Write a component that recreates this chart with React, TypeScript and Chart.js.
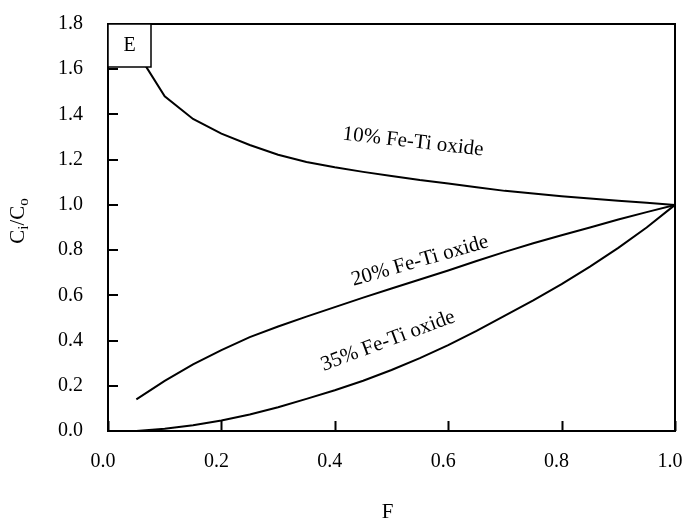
import React, { useEffect, useRef } from "react";
import { Chart, registerables } from "chart.js";

Chart.register(...registerables);

const fractionF = [0.05, 0.1, 0.15, 0.2, 0.25, 0.3, 0.35, 0.4, 0.45, 0.5, 0.55, 0.6, 0.65, 0.7, 0.75, 0.8, 0.85, 0.9, 0.95, 1.0];
const oxide10 = [1.68, 1.48, 1.38, 1.315, 1.265, 1.222, 1.19, 1.166, 1.146, 1.128, 1.11, 1.095, 1.078, 1.062, 1.05, 1.038, 1.028, 1.018, 1.009, 1.0];
const oxide20 = [0.14, 0.222, 0.295, 0.358, 0.415, 0.462, 0.506, 0.548, 0.59, 0.63, 0.67, 0.71, 0.752, 0.792, 0.83, 0.866, 0.9, 0.935, 0.968, 1.0];
const oxide35 = [0.0, 0.01, 0.025, 0.046, 0.073, 0.105, 0.142, 0.18, 0.222, 0.27, 0.322, 0.38, 0.443, 0.51, 0.578, 0.65, 0.727, 0.81, 0.9, 1.0];

const seriesLabels = ["10% Fe-Ti oxide", "20% Fe-Ti oxide", "35% Fe-Ti oxide"];
const xTicks = [0, 0.2, 0.4, 0.6, 0.8, 1.0];
const yTicks = [0, 0.2, 0.4, 0.6, 0.8, 1.0, 1.2, 1.4, 1.6, 1.8];
const panelLetter = "E";
const xTitle = "F";

const FONT = "'Liberation Serif', 'Times New Roman', serif";

const overlayPlugin = {
  id: "overlay",
  afterDatasetsDraw(chart: any) {
    const { ctx, chartArea, scales } = chart;
    const { left, top, right, bottom } = chartArea;
    ctx.save();
    ctx.strokeStyle = "#000";
    ctx.fillStyle = "#000";
    // inward ticks
    ctx.lineWidth = 2;
    ctx.beginPath();
    xTicks.forEach((v) => {
      const px = Math.round(scales.x.getPixelForValue(v)) + 0.5;
      ctx.moveTo(px, bottom);
      ctx.lineTo(px, bottom - 10);
    });
    yTicks.forEach((v) => {
      const py = Math.round(scales.y.getPixelForValue(v));
      ctx.moveTo(left, py);
      ctx.lineTo(left + 10, py);
    });
    ctx.stroke();
    // frame
    ctx.lineWidth = 2;
    ctx.strokeRect(left, top, right - left, bottom - top);

    // panel letter box
    ctx.fillStyle = "#fff";
    ctx.fillRect(left, top, 43, 43);
    ctx.lineWidth = 1.5;
    ctx.strokeRect(left, top, 43, 43);
    ctx.fillStyle = "#000";
    ctx.font = `20px ${FONT}`;
    ctx.textAlign = "center";
    ctx.textBaseline = "middle";
    ctx.fillText(panelLetter, left + 21.5, top + 22);

    // curve labels
    const labelPos = [
      { x: 413, y: 142, a: 6.5 },
      { x: 420, y: 261, a: -16 },
      { x: 388, y: 341, a: -20.5 },
    ];
    ctx.font = `21px ${FONT}`;
    labelPos.forEach((p, i) => {
      ctx.save();
      ctx.translate(p.x, p.y);
      ctx.rotate((p.a * Math.PI) / 180);
      ctx.fillText(seriesLabels[i], 0, 0);
      ctx.restore();
    });

    // x title
    ctx.font = `21px ${FONT}`;
    ctx.textBaseline = "alphabetic";
    ctx.fillText(xTitle, (left + right) / 2 - 4, 518);

    // y title C_i/C_o
    ctx.save();
    ctx.translate(24, 221);
    ctx.rotate(-Math.PI / 2);
    const parts = [
      { t: "C", sub: false },
      { t: "i", sub: true },
      { t: "/C", sub: false },
      { t: "o", sub: true },
    ];
    const fMain = `21px ${FONT}`;
    const fSub = `15px ${FONT}`;
    let total = 0;
    parts.forEach((p) => {
      ctx.font = p.sub ? fSub : fMain;
      total += ctx.measureText(p.t).width;
    });
    let cx = -total / 2;
    ctx.textAlign = "left";
    parts.forEach((p) => {
      ctx.font = p.sub ? fSub : fMain;
      ctx.fillText(p.t, cx, p.sub ? 4 : 0);
      cx += ctx.measureText(p.t).width;
    });
    ctx.restore();
    ctx.restore();
  },
};

export default function App() {
  const ref = useRef<HTMLCanvasElement | null>(null);
  useEffect(() => {
    if (!ref.current) return;
    const mk = (arr: number[]) => fractionF.map((f, i) => ({ x: f, y: arr[i] }));
    const ds = (arr: number[], label: string) => ({
      label,
      data: mk(arr),
      borderColor: "#000",
      borderWidth: 2,
      pointRadius: 0,
      tension: 0,
      fill: false,
    });
    const chart = new Chart(ref.current, {
      type: "line",
      data: {
        datasets: [ds(oxide10, seriesLabels[0]), ds(oxide20, seriesLabels[1]), ds(oxide35, seriesLabels[2])],
      },
      options: {
        animation: false,
        responsive: false,
        layout: { padding: { left: 0, top: 24, right: 10, bottom: 0 } },
        plugins: { legend: { display: false }, tooltip: { enabled: false } },
        scales: {
          x: {
            type: "linear",
            min: 0,
            max: 1,
            afterBuildTicks: (s: any) => {
              s.ticks = xTicks.map((v) => ({ value: v }));
            },
            afterFit: (s: any) => {
              s.height = 88;
              s.paddingLeft = 0;
              s.paddingRight = 0;
            },
            grid: { display: false, drawTicks: false },
            border: { display: false },
            ticks: {
              padding: 19,
              labelOffset: -5,
              color: "#000",
              font: { family: FONT, size: 20 },
              callback: (v: any) => Number(v).toFixed(1),
            },
          },
          y: {
            type: "linear",
            min: 0,
            max: 1.8,
            afterBuildTicks: (s: any) => {
              s.ticks = yTicks.map((v) => ({ value: v }));
            },
            afterFit: (s: any) => {
              s.width = 108;
              s.paddingTop = 0;
              s.paddingBottom = 0;
            },
            grid: { display: false, drawTicks: false },
            border: { display: false },
            ticks: {
              padding: 25,
              color: "#000",
              font: { family: FONT, size: 20 },
              callback: (v: any) => Number(v).toFixed(1),
            },
          },
        },
      },
      plugins: [overlayPlugin],
    } as any);
    return () => chart.destroy();
  }, []);
  return (
    <canvas
      ref={ref}
      width={685}
      height={519}
      style={{ position: "absolute", left: 0, top: 0, width: 685, height: 519 }}
    />
  );
}
